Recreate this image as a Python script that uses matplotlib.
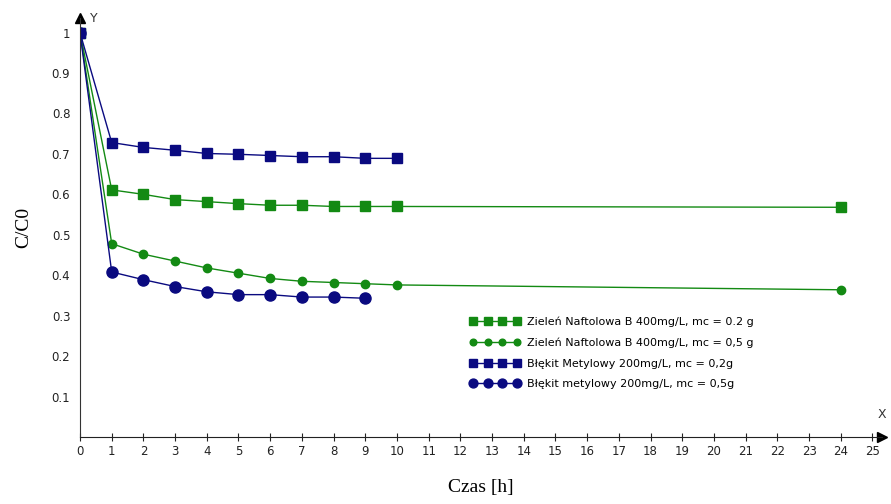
import numpy as np
import matplotlib.pyplot as plt

# Dane
x_a = [0, 1, 2, 3, 4, 5, 6, 7, 8, 9, 10, 24]
zn_02 = [1.0, 0.611, 0.600, 0.587, 0.582, 0.577, 0.573, 0.573, 0.570, 0.570, 0.570, 0.568]
zn_05 = [1.0, 0.478, 0.452, 0.435, 0.418, 0.405, 0.392, 0.385, 0.382, 0.379, 0.376, 0.364]

x_b = [0, 1, 2, 3, 4, 5, 6, 7, 8, 9, 10]
bm_02 = [1.0, 0.728, 0.716, 0.709, 0.701, 0.699, 0.696, 0.693, 0.693, 0.689, 0.689]

x_c = [0, 1, 2, 3, 4, 5, 6, 7, 8, 9]
bm_05 = [1.0, 0.408, 0.389, 0.372, 0.359, 0.352, 0.352, 0.346, 0.346, 0.343]

labels = ['Zieleń Naftolowa B 400mg/L, mc = 0.2 g',
          'Zieleń Naftolowa B 400mg/L, mc = 0,5 g',
          'Błękit Metylowy 200mg/L, mc = 0,2g',
          'Błękit metylowy 200mg/L, mc = 0,5g']

xticks = list(range(0, 26))
yticks = [0.1, 0.2, 0.3, 0.4, 0.5, 0.6, 0.7, 0.8, 0.9, 1]

green = '#138a13'
navy = '#0a0a80'

fig = plt.figure(figsize=(8.91, 5.04), dpi=100)
ax = fig.add_axes([80 / 891, 1 - 437 / 504, (882 - 80) / 891, (437 - 18) / 504])

ax.plot(x_a, zn_02, color=green, lw=1, marker='s', ms=6.5, label=labels[0])
ax.plot(x_a, zn_05, color=green, lw=1, marker='o', ms=6, label=labels[1])
ax.plot(x_b, bm_02, color=navy, lw=1, marker='s', ms=6.5, label=labels[2])
ax.plot(x_c, bm_05, color=navy, lw=1, marker='o', ms=8, label=labels[3])

ax.set_xlim(0, 25.3)
ax.set_ylim(0, 1.036)

for s in ['top', 'right']:
    ax.spines[s].set_visible(False)
ax.spines['left'].set_color('#333333')
ax.spines['bottom'].set_color('#222222')

ax.set_xticks(xticks)
ax.set_yticks(yticks)
ax.set_yticklabels(['0.1', '0.2', '0.3', '0.4', '0.5', '0.6', '0.7', '0.8', '0.9', '1'])
ax.tick_params(axis='x', direction='inout', length=6, labelsize=8.5, colors='#222222', pad=3)
ax.tick_params(axis='y', length=0, labelsize=8.5, colors='#222222', pad=7)

# strzałki osi
ax.plot(1, 0, '>k', ms=7, transform=ax.transAxes, clip_on=False)
ax.plot(0, 1, '^k', ms=7, transform=ax.transAxes, clip_on=False)
ax.text(0.012, 1.0, 'Y', transform=ax.transAxes, fontsize=9, color='#333333', va='center')
ax.text(1.0, 0.045, 'X', transform=ax.transAxes, fontsize=9, color='#333333', ha='center')

ax.set_xlabel('Czas [h]', fontfamily='Liberation Serif', fontsize=14, labelpad=15)
ax.set_ylabel('C/C0', fontfamily='Liberation Serif', fontsize=14, labelpad=14)

ax.legend(loc='lower left', bbox_to_anchor=(0.474, 0.09), frameon=False, fontsize=8,
          numpoints=4, markerscale=0.8, handlelength=4.5, handletextpad=0.6,
          labelspacing=0.95)

fig.savefig('out.png', dpi=100)
